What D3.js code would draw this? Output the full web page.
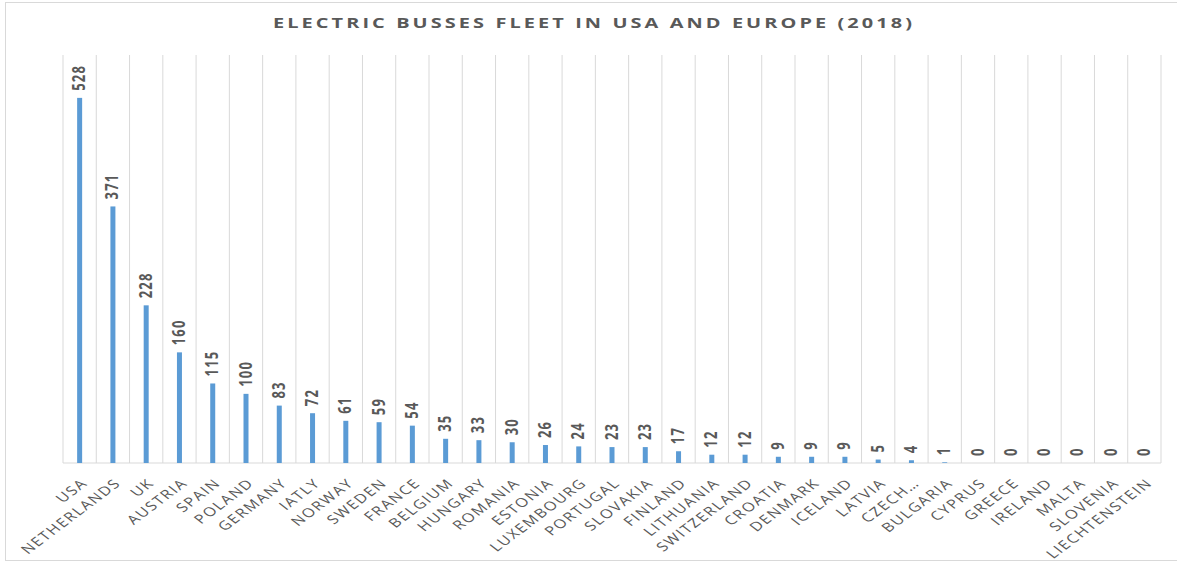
<!DOCTYPE html>
<html>
<head>
<meta charset="utf-8">
<script src="https://cdn.jsdelivr.net/npm/d3@7"></script>
<style>
  body { margin: 0; background: #fff; }
  svg { display: block; }
</style>
</head>
<body>
<svg id="chart" width="1177" height="562"></svg>
<script>
// data
var countries = ["USA", "NETHERLANDS", "UK", "AUSTRIA", "SPAIN", "POLAND", "GERMANY", "IATLY",
  "NORWAY", "SWEDEN", "FRANCE", "BELGIUM", "HUNGARY", "ROMANIA", "ESTONIA", "LUXEMBOURG",
  "PORTUGAL", "SLOVAKIA", "FINLAND", "LITHUANIA", "SWITZERLAND", "CROATIA", "DENMARK", "ICELAND",
  "LATVIA", "CZECH…", "BULGARIA", "CYPRUS", "GREECE", "IRELAND", "MALTA", "SLOVENIA", "LIECHTENSTEIN"];
var buses = [528, 371, 228, 160, 115, 100, 83, 72, 61, 59, 54, 35, 33, 30, 26, 24,
  23, 23, 17, 12, 12, 9, 9, 9, 5, 4, 1, 0, 0, 0, 0, 0, 0];
var title = "ELECTRIC BUSSES FLEET IN USA AND EUROPE (2018)";

var data = countries.map(function(c, i) { return { name: c, value: buses[i] }; });

var svg = d3.select("#chart");
var plotLeft = 63, plotRight = 1161, plotTop = 55, plotBottom = 463;
var textColor = "#595959";
var font = "'Open Sans', 'Liberation Sans', Arial, sans-serif";
var stretch = 1.33; // the original picture is stretched sideways

// outer frame
svg.append("rect")
  .attr("x", 5.5).attr("y", 2.5)
  .attr("width", 1180).attr("height", 558)
  .attr("fill", "none")
  .attr("stroke", "#d9d9d9");

var x = d3.scaleBand().domain(countries).range([plotLeft, plotRight]);
var y = d3.scaleLinear().domain([0, 590]).range([plotBottom, plotTop]);

// vertical gridlines at category borders
var edges = countries.map(function(c) { return x(c); }).concat([plotRight]);
svg.append("g")
  .selectAll("line")
  .data(edges)
  .enter()
  .append("line")
    .attr("x1", function(d) { return d; })
    .attr("x2", function(d) { return d; })
    .attr("y1", plotTop)
    .attr("y2", plotBottom)
    .attr("stroke", "#d9d9d9")
    .attr("stroke-width", 1);

// baseline
svg.append("line")
  .attr("x1", plotLeft).attr("x2", plotRight)
  .attr("y1", plotBottom).attr("y2", plotBottom)
  .attr("stroke", "#d9d9d9");

// bars
var barW = 5;
svg.append("g")
  .selectAll("rect")
  .data(data)
  .enter()
  .append("rect")
    .attr("x", function(d) { return x(d.name) + x.bandwidth() / 2 - barW / 2; })
    .attr("y", function(d) { return y(d.value); })
    .attr("width", barW)
    .attr("height", function(d) { return plotBottom - y(d.value); })
    .attr("fill", "#5b9bd5");

// value labels, rotated
svg.append("g")
  .selectAll("text")
  .data(data)
  .enter()
  .append("text")
    .attr("transform", function(d) {
      var cx = x(d.name) + x.bandwidth() / 2;
      return "translate(" + (cx + 5.5) + "," + (y(d.value) - 7) + ") scale(" + stretch + ",1) rotate(-90)";
    })
    .attr("text-anchor", "start")
    .attr("font-family", font)
    .attr("font-weight", 700)
    .attr("font-size", 13)
    .attr("letter-spacing", 1.2)
    .attr("fill", textColor)
    .text(function(d) { return d.value; });

// category labels at 45 degrees (before the sideways stretch)
svg.append("g")
  .selectAll("text")
  .data(data)
  .enter()
  .append("text")
    .attr("transform", function(d) {
      var cx = x(d.name) + x.bandwidth() / 2;
      return "translate(" + (cx + 9) + "," + (plotBottom + 21) + ") scale(" + stretch + ",1) rotate(-45)";
    })
    .attr("text-anchor", "end")
    .attr("font-family", font)
    .attr("font-size", 12.5)
    .attr("letter-spacing", 1.2)
    .attr("fill", textColor)
    .text(function(d) { return d.name; });

// title
svg.append("text")
  .attr("transform", "scale(" + stretch + ",1)")
  .attr("x", 273 / stretch)
  .attr("y", 28)
  .attr("textLength", 639 / stretch)
  .attr("lengthAdjust", "spacing")
  .attr("font-family", font)
  .attr("font-weight", 700)
  .attr("font-size", 15)
  .attr("fill", textColor)
  .text(title);
</script>
</body>
</html>
